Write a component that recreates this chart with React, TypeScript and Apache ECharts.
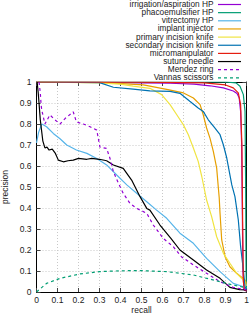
import React, { useEffect, useRef } from "react";
import * as echarts from "echarts";

const seriesNames = [
  "irrigation/aspiration HP",
  "phacoemulsifier HP",
  "vitrectomy HP",
  "implant injector",
  "primary incision knife",
  "secondary incision knife",
  "micromanipulator",
  "suture needle",
  "Mendez ring",
  "Vannas scissors",
];

const colors = ["#9400d3", "#009e73", "#56b4e9", "#e69f00", "#f0e442", "#0072b2", "#e51e10", "#000000", "#9400d3", "#009e73"];
const dashed = [false, false, false, false, false, false, false, false, true, true];

const yTickValues = [0, 0.1, 0.2, 0.3, 0.4, 0.5, 0.6, 0.7, 0.8, 0.9, 1];
const yTickLabels = ["0", "0.1", "0.2", "0.3", "0.4", "0.5", "0.6", "0.7", "0.8", "0.9", "1"];

const irrigation = [[0, 1], [0.3, 0.998], [0.5, 0.996], [0.636, 0.994], [0.75, 0.99], [0.826, 0.982], [0.89, 0.972], [0.937, 0.957], [0.955, 0.945], [0.965, 0.925], [0.972, 0.86], [0.977, 0.7], [0.98, 0.4], [0.983, 0.1], [0.988, 0.01], [1, 0.005]];
const phaco = [[0, 1], [0.9, 1], [0.95, 0.996], [0.969, 0.98], [0.985, 0.94], [0.993, 0.86], [0.996, 0.5], [0.998, 0.1], [1, 0.01]];
const vitrectomy = [[0, 0.71], [0.01, 0.76], [0.025, 0.8], [0.048, 0.787], [0.08, 0.755], [0.112, 0.73], [0.144, 0.7], [0.19, 0.676], [0.24, 0.66], [0.287, 0.636], [0.334, 0.605], [0.382, 0.557], [0.43, 0.51], [0.477, 0.47], [0.525, 0.43], [0.572, 0.39], [0.62, 0.351], [0.683, 0.28], [0.747, 0.232], [0.81, 0.16], [0.874, 0.097], [0.937, 0.041], [1, 0.02]];
const implant = [[0, 1], [0.3, 0.998], [0.509, 0.986], [0.62, 0.965], [0.7, 0.948], [0.747, 0.924], [0.779, 0.892], [0.794, 0.844], [0.81, 0.781], [0.826, 0.733], [0.842, 0.67], [0.858, 0.59], [0.866, 0.495], [0.87, 0.45], [0.874, 0.375], [0.882, 0.248], [0.898, 0.168], [0.921, 0.12], [0.953, 0.089], [0.993, 0.057], [1, 0.04]];
const primaryKnife = [[0, 1], [0.3, 0.996], [0.398, 0.99], [0.46, 0.98], [0.54, 0.97], [0.596, 0.94], [0.636, 0.892], [0.668, 0.844], [0.699, 0.797], [0.723, 0.749], [0.747, 0.686], [0.77, 0.622], [0.787, 0.55], [0.81, 0.438], [0.834, 0.359], [0.858, 0.263], [0.89, 0.184], [0.921, 0.137], [0.953, 0.089], [0.993, 0.049], [1, 0.03]];
const secondaryKnife = [[0, 1], [0.3, 0.997], [0.366, 0.975], [0.46, 0.966], [0.54, 0.958], [0.636, 0.955], [0.683, 0.946], [0.73, 0.908], [0.77, 0.876], [0.794, 0.86], [0.818, 0.82], [0.85, 0.78], [0.874, 0.749], [0.89, 0.7], [0.906, 0.638], [0.921, 0.558], [0.93, 0.51], [0.945, 0.454], [0.961, 0.343], [0.972, 0.216], [0.985, 0.105], [0.993, 0.025], [1, 0.01]];
const micromanipulator = [[0, 1], [0.5, 0.999], [0.8, 0.996], [0.9, 0.986], [0.937, 0.972], [0.961, 0.948], [0.972, 0.892], [0.978, 0.7], [0.982, 0.3], [0.985, 0.05], [0.99, 0.01], [1, 0.005]];
const sutureNeedle = [[0.003, 1], [0.008, 0.95], [0.012, 0.9], [0.018, 0.82], [0.03, 0.72], [0.04, 0.686], [0.05, 0.69], [0.06, 0.676], [0.075, 0.68], [0.09, 0.66], [0.104, 0.628], [0.128, 0.62], [0.15, 0.625], [0.175, 0.628], [0.2, 0.636], [0.24, 0.632], [0.263, 0.636], [0.3, 0.632], [0.334, 0.625], [0.366, 0.605], [0.413, 0.589], [0.453, 0.533], [0.493, 0.454], [0.525, 0.398], [0.54, 0.39], [0.588, 0.319], [0.64, 0.255], [0.683, 0.2], [0.747, 0.152], [0.81, 0.105], [0.874, 0.065], [0.921, 0.022], [0.967, 0.011], [1, 0.01]];
const mendezRing = [[0.012, 1], [0.018, 0.95], [0.022, 0.89], [0.025, 0.867], [0.04, 0.8], [0.064, 0.843], [0.088, 0.82], [0.112, 0.8], [0.136, 0.826], [0.175, 0.858], [0.19, 0.81], [0.223, 0.8], [0.255, 0.787], [0.287, 0.771], [0.302, 0.69], [0.334, 0.684], [0.35, 0.636], [0.366, 0.573], [0.39, 0.518], [0.413, 0.47], [0.445, 0.422], [0.477, 0.398], [0.525, 0.375], [0.556, 0.319], [0.604, 0.255], [0.651, 0.216], [0.69, 0.168], [0.747, 0.129], [0.81, 0.089], [0.874, 0.049], [0.937, 0.022], [1, 0.01]];
const vannasScissors = [[0, 0], [0.048, 0.041], [0.112, 0.065], [0.207, 0.086], [0.3, 0.097], [0.4, 0.101], [0.49, 0.102], [0.62, 0.097], [0.747, 0.081], [0.874, 0.049], [0.937, 0.033], [1, 0.02]];

const seriesData = [irrigation, phaco, vitrectomy, implant, primaryKnife, secondaryKnife, micromanipulator, sutureNeedle, mendezRing, vannasScissors];

const FONT = "Liberation Sans, Arial, sans-serif";

export default function App() {
  const ref = useRef<HTMLDivElement>(null);
  useEffect(() => {
    if (!ref.current) return;
    const chart = echarts.init(ref.current, null, { renderer: "svg" });
    const legendTop = 4;
    const legendStep = 8.15;
    const legendGraphics: any[] = [];
    seriesNames.forEach((name, i) => {
      const y = legendTop + i * legendStep;
      legendGraphics.push({
        type: "text",
        x: 213.5,
        y,
        style: { text: name, fontFamily: FONT, fontSize: 8.3, lineHeight: 8, fill: "#222", align: "right", verticalAlign: "middle" },
      });
      legendGraphics.push({
        type: "line",
        shape: { x1: 218, y1: y + 0.5, x2: 241, y2: y + 0.5 },
        style: { stroke: colors[i], lineWidth: 1.2, lineDash: dashed[i] ? [3, 3] : null },
      });
    });
    const splitLine = { show: true, lineStyle: { color: "#c8c8c8", type: [1, 2], width: 1 } };
    const tickAxis = {
      type: "value" as const,
      min: 0,
      max: 1,
      interval: 0.1,
      axisLine: { show: true, onZero: false, lineStyle: { color: "#000", width: 1 } },
      axisTick: { show: true, inside: true, length: 4, lineStyle: { color: "#444" } },
      axisLabel: { show: false },
      splitLine: { show: false },
    };
    chart.setOption({
      animation: false,
      textStyle: { fontFamily: FONT },
      grid: { left: 36.5, top: 82, right: 2.5, bottom: 24, containLabel: false, outerBoundsMode: "none" },
      xAxis: [
        {
          type: "value",
          min: 0,
          max: 1,
          interval: 0.1,
          position: "bottom",
          axisLine: { show: false },
          axisTick: { show: false },
          axisLabel: { color: "#222", fontSize: 8.5, margin: 3 },
          splitLine,
        },
        { ...tickAxis, position: "bottom" },
        { ...tickAxis, position: "top" },
      ],
      yAxis: [
        {
          type: "value",
          min: 0,
          max: 1,
          interval: 0.1,
          position: "left",
          axisLine: { show: false },
          axisTick: { show: false },
          axisLabel: { show: false },
          splitLine,
        },
        { ...tickAxis, position: "left" },
        { ...tickAxis, position: "right" },
      ],
      series: seriesNames.map((name, i) => ({
        name,
        type: "line",
        data: seriesData[i],
        showSymbol: false,
        symbol: "none",
        xAxisIndex: 0,
        yAxisIndex: 0,
        color: colors[i],
        lineStyle: { color: colors[i], width: 1.2, type: dashed[i] ? [3, 3] : "solid" },
      })),
    });
    // y tick labels placed through the y axis scale
    const axisX = chart.convertToPixel({ xAxisIndex: 0 }, 0) as number;
    const yLabelGraphics = yTickValues.map((v, i) => ({
      type: "text",
      x: axisX - 5,
      y: chart.convertToPixel({ yAxisIndex: 0 }, v) as number,
      style: { text: yTickLabels[i], fontFamily: FONT, fontSize: 8.5, fill: "#222", align: "right", verticalAlign: "middle" },
    }));
    chart.setOption({
      graphic: [
        ...legendGraphics,
        ...yLabelGraphics,
        {
          type: "text",
          x: 5,
          y: 187,
          rotation: Math.PI / 2,
          style: { text: "precision", fontFamily: FONT, fontSize: 8.5, fill: "#222", align: "center", verticalAlign: "middle" },
        },
        {
          type: "text",
          x: 141.5,
          y: 310,
          style: { text: "recall", fontFamily: FONT, fontSize: 8.5, fill: "#222", align: "center", verticalAlign: "middle" },
        },
      ],
    });
    return () => chart.dispose();
  }, []);
  return <div ref={ref} style={{ width: 249, height: 316, position: "absolute", left: 0, top: 0 }} />;
}
